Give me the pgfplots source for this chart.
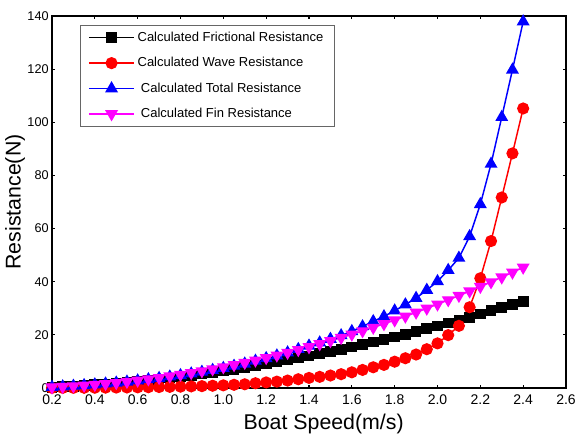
\documentclass[border=0pt]{standalone}
\usepackage{pgfplots}
\pgfplotsset{compat=1.18}
\usepackage{fontspec}
\setmainfont{Liberation Sans}
\definecolor{mag}{RGB}{255,0,255}
\begin{document}
\begin{tikzpicture}
\begin{axis}[
  at={(0,0)}, anchor=south west,
  scale only axis,
  width=385.5pt, height=279pt,
  xmin=0.2, xmax=2.6, ymin=0, ymax=140,
  xtick={0.2,0.4,...,2.61},
  ytick={0,20,...,140},
  /pgf/number format/assume math mode=true,
  xticklabel style={font=\fontsize{10.5}{12}\selectfont, yshift=-1.5pt, /pgf/number format/.cd, fixed, fixed zerofill, precision=1},
  yticklabel style={font=\fontsize{9.5}{11}\selectfont, xshift=1pt},
  tick align=inside, major tick length=2.5pt,
  axis line style={line width=1.2pt},
  tick style={line width=0.8pt, black},
  xlabel={Boat Speed(m/s)},
  ylabel={Resistance(N)},
  label style={font=\fontsize{16}{19}\selectfont},
  xlabel style={xshift=11pt},
  ylabel style={yshift=-5pt},
  legend style={at={(0.054,0.976)}, anchor=north west, draw=black!60, line width=0.6pt,
    font=\fontsize{9.75}{11.5}\selectfont, row sep=6.5pt, inner xsep=6pt, inner ysep=3pt},
  legend cell align=left,
  legend image code/.code={\draw[mark repeat=2,mark phase=2] plot coordinates {(0pt,0pt) (17pt,0pt) (34pt,0pt)};},
  every axis plot/.append style={line width=1.1pt},
]
\addplot[black, mark=square*, mark size=3.5pt] coordinates {
(0.20,0.33)(0.25,0.50)(0.30,0.70)(0.35,0.93)(0.40,1.19)(0.45,1.48)(0.50,1.80)(0.55,2.14)(0.60,2.52)(0.65,2.92)
(0.70,3.35)(0.75,3.80)(0.80,4.28)(0.85,4.79)(0.90,5.33)(0.95,5.89)(1.00,6.47)(1.05,7.09)(1.10,7.72)(1.15,8.39)
(1.20,9.07)(1.25,9.78)(1.30,10.52)(1.35,11.28)(1.40,12.07)(1.45,12.87)(1.50,13.71)(1.55,14.57)(1.60,15.44)(1.65,16.35)
(1.70,17.28)(1.75,18.23)(1.80,19.20)(1.85,20.20)(1.90,21.23)(1.95,22.27)(2.00,23.34)(2.05,24.43)(2.10,25.54)(2.15,26.68)
(2.20,27.84)(2.25,29.02)(2.30,30.22)(2.35,31.45)(2.40,32.70)};
\addlegendentry{Calculated Frictional Resistance}
\addplot[red, mark=*, mark size=4pt] coordinates {
(0.20,0.02)(0.25,0.04)(0.30,0.06)(0.35,0.08)(0.40,0.10)(0.45,0.13)(0.50,0.16)(0.55,0.20)(0.60,0.25)(0.65,0.30)
(0.70,0.36)(0.75,0.43)(0.80,0.50)(0.85,0.60)(0.90,0.70)(0.95,0.85)(1.00,1.00)(1.05,1.20)(1.10,1.40)(1.15,1.80)
(1.20,2.10)(1.25,2.40)(1.30,2.80)(1.35,3.30)(1.40,3.80)(1.45,4.20)(1.50,4.70)(1.55,5.20)(1.60,5.90)(1.65,6.80)
(1.70,7.80)(1.75,8.70)(1.80,9.90)(1.85,11.20)(1.90,12.60)(1.95,14.60)(2.00,16.80)(2.05,19.90)(2.10,23.40)(2.15,30.40)
(2.20,41.30)(2.25,55.30)(2.30,71.70)(2.35,88.30)(2.40,105.20)};
\addlegendentry{Calculated Wave Resistance}
\addplot[blue, mark=triangle*, mark size=4.5pt] coordinates {
(0.20,0.35)(0.25,0.54)(0.30,0.76)(0.35,1.01)(0.40,1.29)(0.45,1.61)(0.50,1.96)(0.55,2.34)(0.60,2.77)(0.65,3.22)
(0.70,3.71)(0.75,4.23)(0.80,4.78)(0.85,5.39)(0.90,6.03)(0.95,6.74)(1.00,7.47)(1.05,8.29)(1.10,9.12)(1.15,10.19)
(1.20,11.17)(1.25,12.18)(1.30,13.32)(1.35,14.58)(1.40,15.87)(1.45,17.07)(1.50,18.41)(1.55,19.77)(1.60,21.34)(1.65,23.15)
(1.70,25.08)(1.75,26.93)(1.80,29.10)(1.85,31.40)(1.90,33.83)(1.95,36.87)(2.00,40.14)(2.05,44.33)(2.10,48.94)(2.15,57.08)
(2.20,69.14)(2.25,84.32)(2.30,101.92)(2.35,119.75)(2.40,137.90)};
\addlegendentry{\hspace{2.5pt}Calculated Total Resistance}
\addplot[mag, mark=triangle*, mark options={rotate=180}, mark size=4.5pt] coordinates {
(0.20,0.32)(0.25,0.49)(0.30,0.71)(0.35,0.97)(0.40,1.26)(0.45,1.60)(0.50,1.97)(0.55,2.38)(0.60,2.84)(0.65,3.33)
(0.70,3.86)(0.75,4.43)(0.80,5.04)(0.85,5.69)(0.90,6.38)(0.95,7.11)(1.00,7.88)(1.05,8.69)(1.10,9.53)(1.15,10.42)
(1.20,11.35)(1.25,12.31)(1.30,13.32)(1.35,14.36)(1.40,15.44)(1.45,16.57)(1.50,17.73)(1.55,18.93)(1.60,20.17)(1.65,21.45)
(1.70,22.77)(1.75,24.13)(1.80,25.53)(1.85,26.97)(1.90,28.45)(1.95,29.96)(2.00,31.52)(2.05,33.12)(2.10,34.75)(2.15,36.43)
(2.20,38.14)(2.25,39.89)(2.30,41.69)(2.35,43.52)(2.40,45.39)};
\addlegendentry{\hspace{2.5pt}Calculated Fin Resistance}
\end{axis}
\pgfresetboundingbox
\path (-39pt,-36.75pt) rectangle (393pt,291pt);
\end{tikzpicture}
\end{document}
